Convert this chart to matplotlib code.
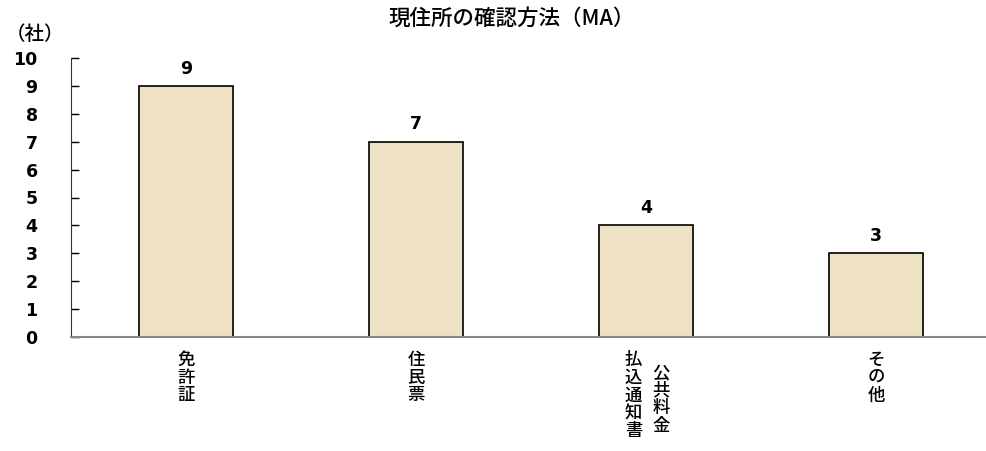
import matplotlib.pyplot as plt

plt.rcParams['font.family'] = ['Noto Sans CJK JP', 'DejaVu Sans']

# data
categories = ["免許証", "住民票", "公共料金払込通知書", "その他"]
values = [9, 7, 4, 3]
title = "現住所の確認方法（MA）"
unit_label = "（社）"

W, H = 986, 451
fig = plt.figure(figsize=(W / 100, H / 100), dpi=100)
ax = fig.add_axes([71 / W, (H - 337) / H, 920 / W, 279 / H])

x = list(range(len(values)))
ax.bar(x, values, width=0.405, color="#EEE1C4", edgecolor="black", linewidth=1.2)

ax.set_xlim(-0.5, 3.5)
ax.set_ylim(0, 10)
ax.set_yticks(range(0, 11))
ax.tick_params(axis="y", direction="in", length=6, width=1, pad=24)
for lab in ax.get_yticklabels():
    lab.set_family("DejaVu Sans")
    lab.set_fontsize(12.5)
    lab.set_fontweight("bold")
ax.set_xticks([])

for s in ["top", "right"]:
    ax.spines[s].set_visible(False)
ax.spines["left"].set_color("#333333")
ax.spines["bottom"].set_color("#888888")
ax.spines["bottom"].set_linewidth(1.5)

# value labels
for xi, v in zip(x, values):
    ax.annotate(str(v), (xi, v), xytext=(0, 6), textcoords="offset points",
                ha="center", va="bottom", fontsize=12.5, family="DejaVu Sans",
                fontweight="bold")

# vertical category labels
def vtext(xc, ytop_px, s, dx=0):
    ax.annotate("\n".join(s), (xc, 0), xycoords=("data", "axes fraction"),
                xytext=(dx, -(ytop_px - 337) * 0.72), textcoords="offset points",
                ha="center", va="top", fontsize=12.5, linespacing=0.98,
                fontweight="medium")

vtext(0, 351, categories[0])
vtext(1, 351, categories[1])
vtext(2, 364, categories[2][:4], dx=11)
vtext(2, 351, categories[2][4:], dx=-9)
vtext(3, 351, categories[3])

fig.text(512 / W, 1 - 19 / H, title, ha="center", va="center", fontsize=15.5, fontweight="medium")
fig.text(6 / W, 1 - 35 / H, unit_label, ha="left", va="center", fontsize=14, fontweight="medium")

fig.savefig("out.png", dpi=100)
